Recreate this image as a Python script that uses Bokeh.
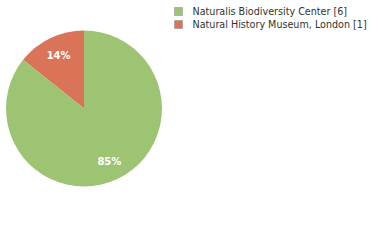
import math
from bokeh.plotting import figure
from bokeh.models import Range1d, ColumnDataSource
from bokeh.core.properties import value
from bokeh.embed import file_html
from bokeh.resources import INLINE

labels = ["Naturalis Biodiversity Center", "Natural History Museum, London"]
counts = [6, 1]
colors = ["#9dc473", "#da7459"]

W, H = 380, 240
p = figure(width=W, height=H, output_backend="svg", toolbar_location=None,
           x_range=Range1d(0, W), y_range=Range1d(0, H), min_border=0)
p.axis.visible = False
p.grid.visible = False
p.outline_line_color = None
p.background_fill_color = "white"

cx, cy, R = 83.5, H - 108, 78
total = sum(counts)
# slices go counterclockwise starting at 12 o'clock, last item first
order = [1, 0]
start = math.pi / 2
starts, ends, cols, lx, ly, ltxt = [], [], [], [], [], []
for i in order:
    frac = counts[i] / total
    end = start + 2 * math.pi * frac
    starts.append(start)
    ends.append(end)
    cols.append(colors[i])
    mid = (start + end) / 2
    lx.append(cx + 0.75 * R * math.cos(mid))
    ly.append(cy + 0.75 * R * math.sin(mid))
    ltxt.append(f"{int(math.floor(frac * 100))}%")
    start = end

src = ColumnDataSource(dict(s=starts, e=ends, c=cols))
p.wedge(x=cx, y=cy, radius=R, start_angle="s", end_angle="e", fill_color="c",
        line_color=None, source=src)
p.text(x=lx, y=ly, text=ltxt, text_color="white", text_font=value("DejaVu Sans"),
       text_font_size="10px", text_font_style="bold", text_align="center", text_baseline="middle")

# legend
leg_y = [H - (11 + 13 * k) for k in range(len(labels))]
p.rect(x=[178] * len(labels), y=leg_y, width=8, height=8, fill_color=colors,
       line_color="#888888", line_width=0.5)
p.text(x=[192] * len(labels), y=leg_y, text=[f"{l} [{c}]" for l, c in zip(labels, counts)],
       text_color="#333333", text_font=value("DejaVu Sans"), text_font_size="9.6px",
       text_baseline="middle")

open("out.html", "w").write(file_html(p, INLINE))
